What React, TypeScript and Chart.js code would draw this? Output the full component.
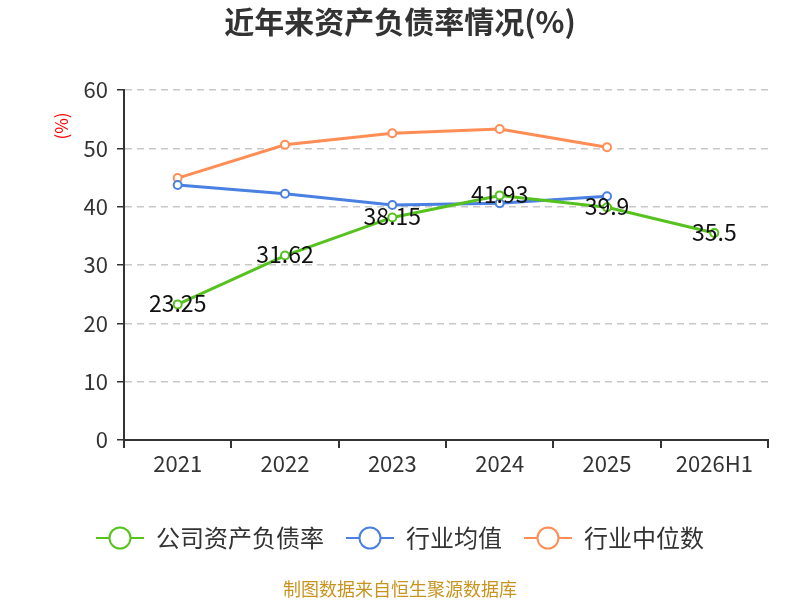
import { useEffect, useRef } from "react";
import { Chart, registerables } from "chart.js";

Chart.register(...registerables);

const categories = ["2021", "2022", "2023", "2024", "2025", "2026H1"];
const companyRate = [23.25, 31.62, 38.15, 41.93, 39.9, 35.5];
const industryAvg = [43.7, 42.2, 40.3, 40.6, 41.8, null];
const industryMedian = [44.9, 50.6, 52.6, 53.3, 50.2, null];
const yTicks = [0, 10, 20, 30, 40, 50, 60];

const FONT = '"Noto Sans CJK SC", "Noto Sans", sans-serif';
const GREEN = "#56c21e";
const BLUE = "#4a80e2";
const ORANGE = "#ff8d55";

const legendItems = [
  { label: "公司资产负债率", color: GREEN },
  { label: "行业均值", color: BLUE },
  { label: "行业中位数", color: ORANGE },
];

// 数值标签、单位、图例、来源文字
const decorPlugin = {
  id: "decor",
  afterDatasetsDraw(chart: Chart) {
    const { ctx } = chart;
    ctx.save();
    ctx.font = `23px ${FONT}`;
    ctx.fillStyle = "#111";
    ctx.textAlign = "center";
    ctx.textBaseline = "middle";
    const meta = chart.getDatasetMeta(0);
    meta.data.forEach((pt, i) => {
      ctx.fillText(String(companyRate[i]), pt.x, pt.y - 1);
    });
    ctx.restore();
  },
  afterDraw(chart: Chart) {
    const { ctx } = chart;
    ctx.save();
    // title
    ctx.font = `bold 30px ${FONT}`;
    ctx.fillStyle = "#333";
    ctx.textAlign = "center";
    ctx.textBaseline = "middle";
    ctx.fillText("近年来资产负债率情况(%)", 400, 22);

    // unit
    ctx.save();
    ctx.translate(62, 126);
    ctx.rotate(-Math.PI / 2);
    ctx.font = `17px ${FONT}`;
    ctx.fillStyle = "#ff0000";
    ctx.fillText("(%)", 0, 0);
    ctx.restore();

    // legend
    ctx.font = `24px ${FONT}`;
    const symW = 48;
    const gap = 12;
    const itemGap = 22;
    const widths = legendItems.map((it) => symW + gap + ctx.measureText(it.label).width);
    const total = widths.reduce((a, b) => a + b, 0) + itemGap * (legendItems.length - 1);
    let x = 400 - total / 2;
    const ly = 538;
    legendItems.forEach((it, i) => {
      ctx.strokeStyle = it.color;
      ctx.lineWidth = 2;
      ctx.beginPath();
      ctx.moveTo(x, ly);
      ctx.lineTo(x + symW, ly);
      ctx.stroke();
      ctx.beginPath();
      ctx.arc(x + symW / 2, ly, 10.5, 0, Math.PI * 2);
      ctx.fillStyle = "#fff";
      ctx.fill();
      ctx.stroke();
      ctx.fillStyle = "#333";
      ctx.textAlign = "left";
      ctx.fillText(it.label, x + symW + gap, ly);
      x += widths[i] + itemGap;
    });

    // source
    ctx.font = `18px ${FONT}`;
    ctx.fillStyle = "#c89420";
    ctx.textAlign = "center";
    ctx.fillText("制图数据来自恒生聚源数据库", 400, 589);
    ctx.restore();
  },
};

export default function App() {
  const canvasRef = useRef<HTMLCanvasElement>(null);
  const chartRef = useRef<Chart | null>(null);

  useEffect(() => {
    if (!canvasRef.current) return;
    chartRef.current?.destroy();

    const line = (label: string, data: (number | null)[], color: string) => ({
      label,
      data,
      borderColor: color,
      backgroundColor: "#fff",
      borderWidth: 3,
      pointRadius: 4,
      pointBorderWidth: 2,
      pointBackgroundColor: "#fff",
      pointBorderColor: color,
      tension: 0,
      spanGaps: false,
    });

    chartRef.current = new Chart(canvasRef.current, {
      type: "line",
      data: {
        labels: categories,
        datasets: [
          line("公司资产负债率", companyRate, GREEN),
          line("行业均值", industryAvg, BLUE),
          line("行业中位数", industryMedian, ORANGE),
        ],
      },
      options: {
        animation: false,
        responsive: false,
        devicePixelRatio: 1,
        layout: { padding: { top: 90, left: 0, right: 32, bottom: 0 } },
        plugins: {
          legend: { display: false },
          title: { display: false },
          tooltip: { enabled: false },
        },
        scales: {
          x: {
            offset: true,
            afterFit: (scale) => {
              scale.height = 160;
            },
            grid: {
              offset: true,
              drawOnChartArea: false,
              drawTicks: true,
              tickLength: 8,
              tickColor: "#333",
              lineWidth: 2,
            },
            border: { color: "#333", width: 2 },
            ticks: {
              color: "#333",
              font: { family: FONT, size: 22 },
              padding: 2,
            },
          },
          y: {
            min: 0,
            max: 60,
            afterFit: (scale) => {
              scale.width = 124;
            },
            afterBuildTicks: (axis) => {
              axis.ticks = yTicks.map((v) => ({ value: v }));
            },
            grid: {
              color: "#c8c8c8",
              lineWidth: 1.5,
              tickColor: "#333",
              tickLength: 7,
            },
            border: { color: "#333", width: 2, dash: [7, 5] },
            ticks: {
              color: "#333",
              font: { family: FONT, size: 22 },
              padding: 9,
            },
          },
        },
      },
      plugins: [decorPlugin],
    });

    return () => {
      chartRef.current?.destroy();
      chartRef.current = null;
    };
  }, []);

  return (
    <div style={{ position: "absolute", left: 0, top: 0, width: 800, height: 600 }}>
      <canvas ref={canvasRef} width={800} height={600} />
    </div>
  );
}
